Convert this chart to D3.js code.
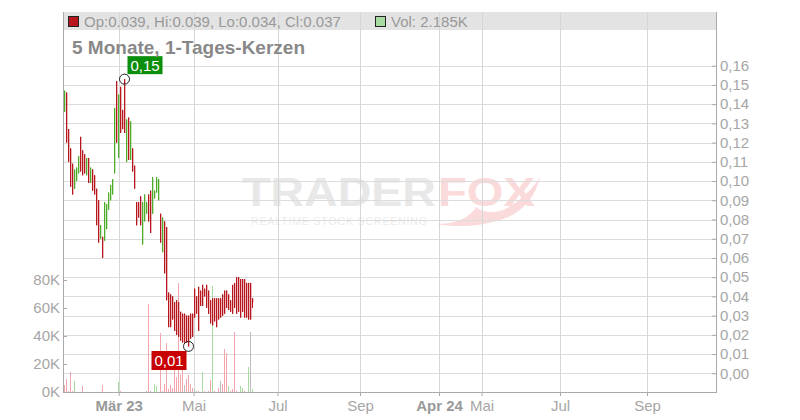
<!DOCTYPE html>
<html><head><meta charset="utf-8">
<script src="https://cdn.jsdelivr.net/npm/d3@7"></script>
<style>body{margin:0;background:#fff}svg{display:block;font-family:"Liberation Sans",Arial,sans-serif}</style>
</head><body><svg id="c" width="800" height="420"></svg>
<script>
// ---- data (one entry per daily candle) ----
const opens  = [.136,.146,.127,.117,.109,.096,.100,.104,.123,.116,.114,.103,.112,.099,.106,.103,.096,.090,.070,.071,
                .069,.075,.085,.090,.093,.104,.152,.112,.149,.137,.153,.110,.133,.111,.117,.108,.089,.089,.092,.067,
                .079,.083,.093,.095,.083,.091,.094,.090,.083,.063,.079,.076,.042,.041,.040,.037,.038,.037,.032,.031,
                .031,.030,.030,.031,.031,.044,.040,.045,.043,.046,.044,.046,.043,.038,.039,.039,.039,.039,.039,.041,
                .043,.043,.041,.038,.046,.047,.050,.050,.049,.049,.049,.047,.047,.047,.039];
const highs  = [.147,.146,.127,.117,.109,.106,.107,.113,.123,.116,.114,.112,.112,.107,.106,.103,.096,.090,.077,.071,
                .089,.088,.094,.098,.101,.138,.152,.145,.149,.137,.153,.132,.133,.131,.117,.108,.089,.089,.092,.089,
                .093,.089,.093,.095,.102,.095,.102,.101,.083,.081,.079,.076,.042,.041,.040,.037,.038,.037,.032,.031,
                .031,.030,.030,.031,.031,.044,.040,.045,.043,.046,.044,.046,.043,.038,.039,.039,.039,.039,.039,.041,
                .043,.043,.041,.038,.046,.047,.050,.050,.049,.049,.049,.047,.047,.047,.039];
const lows   = [.136,.120,.110,.097,.093,.096,.100,.104,.105,.103,.104,.103,.099,.099,.095,.093,.077,.068,.070,.060,
                .069,.075,.085,.090,.093,.104,.120,.112,.125,.127,.125,.110,.111,.111,.105,.096,.077,.081,.077,.067,
                .079,.083,.079,.073,.083,.091,.094,.090,.068,.063,.052,.038,.024,.024,.028,.022,.020,.019,.017,.016,
                .016,.016,.014,.018,.019,.029,.031,.022,.035,.035,.040,.034,.031,.026,.025,.027,.024,.028,.029,.030,
                .031,.034,.033,.032,.031,.034,.031,.032,.029,.032,.029,.029,.028,.028,.034];
const closes = [.147,.120,.110,.097,.093,.106,.107,.113,.105,.103,.104,.112,.099,.107,.095,.093,.077,.068,.077,.060,
                .089,.088,.094,.098,.101,.138,.120,.145,.125,.127,.125,.132,.111,.131,.105,.096,.077,.081,.077,.089,
                .093,.089,.079,.073,.102,.095,.102,.101,.068,.081,.052,.038,.024,.024,.028,.022,.020,.019,.017,.016,
                .016,.016,.014,.018,.019,.029,.031,.022,.035,.035,.040,.034,.031,.026,.025,.027,.024,.028,.029,.030,
                .031,.034,.033,.032,.031,.034,.031,.032,.029,.032,.029,.029,.028,.028,.037];
// volume in thousands
const volumes = [5,9,0.5,14.5,0.5,8,0,0.3,0.3,4, 0,0.3,0,0,0.3,0,0.3,0,0,5, 0.3,0,0,0,0,0.3,0,7,1,0,
                 0,0,0,0,0,0,0,0,0,0, 0,1,63,0.5,0,6,4,0.3,42,0.5, 6,35,2,5,3,25,11,78,12,16,
                 5,9,12,6,3,2,1,0.5,0.3,14.5, 0.5,0.3,0.5,8.5,76,0.5,0.3,3,8,6, 31,27.6,4,0.5,2,43,1,0.3,4,3,
                 0.5,0.3,18,43,2.185];
// volume direction vs previous close: u = up, d = down, n = unchanged
const volumeDir = ("dddddunudd"+"nududdddud"+"uuuuuududd"+"dududddudu"+"undduuuudd"+
                   "dddddddddd"+"nddddnnddu"+"ddddudddnd"+"dduddddduu"+"ddunu").split("");
const priceTicks = [0,0.01,0.02,0.03,0.04,0.05,0.06,0.07,0.08,0.09,0.10,0.11,0.12,0.13,0.14,0.15,0.16];
const volumeTicks = [0,20,40,60,80];
const timeTickLabels = ["Mär 23","Mai","Jul","Sep","Apr 24","Mai","Jul","Sep"];
const timeTickPos    = [27.35,64.8,106.75,148,187.5,208.75,248,291.5];   // in candle-slot units
const timeTickMajor  = [true,false,false,false,true,false,false,false];
const titleText = "5 Monate, 1-Tages-Kerzen";

// ---- layout ----
const svg = d3.select("#c");
const L = 63, R = 716, T = 12, B = 392;
const x  = d3.scaleLinear().domain([-0.5, 326]).range([L, R]);
const y  = d3.scaleLinear().domain([0, 0.16]).range([373.3, 65.7]);
const yv = d3.scaleLinear().domain([0, 80]).range([B, 280]);
const comma = v => d3.format(".2f")(v).replace(".", ",");
const RED = "#b7161d", GREEN = "#4dad2a";
const volColor = {u:"#a8dba2", d:"#f2a5ad", n:"#bdbdbd"};

// header band
svg.append("rect").attr("x", L).attr("y", T).attr("width", R - L).attr("height", 18).attr("fill", "#e3e3e3");

// watermark
const wm = svg.append("g");
wm.append("text").attr("x", 242).attr("y", 206).attr("font-size", 40).attr("font-weight", 900)
  .attr("fill", "#e8e8e8").attr("textLength", 194).attr("lengthAdjust", "spacingAndGlyphs").text("TRADER");
wm.append("text").attr("x", 438).attr("y", 206).attr("font-size", 40).attr("font-weight", 900)
  .attr("fill", "#fbdadc").attr("textLength", 97).attr("lengthAdjust", "spacingAndGlyphs").text("FOX");
wm.append("path").attr("fill", "#fbdadc")
  .attr("d", "M436,224 C455,224 470,218 476,207 C484,214 500,214 512,205 C524,197 534,187 540,177 C536,196 522,214 500,220 C482,226 458,228 436,224 Z");
wm.append("text").attr("x", 251).attr("y", 224.5).attr("font-size", 10.5)
  .attr("fill", "#ebebeb").attr("textLength", 176).attr("lengthAdjust", "spacing").text("REALTIME STOCK SCREENING");

// grid
const gh = svg.append("g").attr("stroke", "#dcdcdc").attr("shape-rendering", "crispEdges");
gh.selectAll("line").data(priceTicks).join("line")
  .attr("x1", L).attr("x2", R).attr("y1", d => Math.round(y(d)) + 0.5).attr("y2", d => Math.round(y(d)) + 0.5);
const gv = svg.append("g").attr("stroke", "#d6d6d6").attr("shape-rendering", "crispEdges");
gv.selectAll("line").data(timeTickPos).join("line")
  .attr("x1", d => Math.round(x(d)) + 0.5).attr("x2", d => Math.round(x(d)) + 0.5).attr("y1", T).attr("y2", B);

// volume bars
svg.append("g").attr("shape-rendering", "crispEdges").selectAll("rect").data(volumes).join("rect")
  .attr("x", (d, i) => Math.round(x(i))).attr("width", 1)
  .attr("y", d => yv(d)).attr("height", d => B - yv(d))
  .attr("fill", (d, i) => volColor[volumeDir[i]] || volColor.n);

// candles
const idx = d3.range(opens.length);
const isUp = i => closes[i] >= opens[i];
const cg = svg.append("g");
cg.selectAll("line").data(idx).join("line")
  .attr("x1", i => Math.round(x(i)) + 0.5).attr("x2", i => Math.round(x(i)) + 0.5)
  .attr("y1", i => y(highs[i])).attr("y2", i => y(lows[i]))
  .attr("stroke", i => isUp(i) ? GREEN : RED).attr("stroke-width", 1);
cg.selectAll("rect").data(idx).join("rect")
  .attr("x", i => Math.round(x(i))).attr("width", 1.3)
  .attr("y", i => y(Math.max(opens[i], closes[i])))
  .attr("height", i => Math.max(1, Math.abs(y(opens[i]) - y(closes[i]))))
  .attr("fill", i => isUp(i) ? GREEN : RED);

// axes
const styleAxis = g => {
  g.attr("font-size", 15).attr("font-family", null);
  g.selectAll("line").attr("stroke", "#aaa");
  g.selectAll("text").attr("fill", "#a6a6a6");
  g.select(".domain").remove();
};
svg.append("g").attr("transform", `translate(${R},0)`)
  .call(d3.axisRight(y).tickValues(priceTicks).tickFormat(comma).tickSizeInner(-4).tickSizeOuter(0).tickPadding(4))
  .call(styleAxis);
svg.append("g").attr("transform", `translate(${L},0)`)
  .call(d3.axisLeft(yv).tickValues(volumeTicks).tickFormat(d => d + "K").tickSizeInner(-4).tickSizeOuter(0).tickPadding(3))
  .call(styleAxis);
const bx = svg.append("g").attr("transform", `translate(0,${B})`)
  .call(d3.axisBottom(x).tickValues(timeTickPos).tickFormat((d, i) => timeTickLabels[i]).tickSizeInner(4).tickSizeOuter(0).tickPadding(4))
  .call(styleAxis);
bx.selectAll("text").attr("fill", (d, i) => timeTickMajor[i] ? "#999" : "#a6a6a6")
  .attr("font-weight", (d, i) => timeTickMajor[i] ? "bold" : "normal");

const frame = svg.append("g").attr("stroke", "#aaa").attr("shape-rendering", "crispEdges");
frame.append("line").attr("x1", L + 0.5).attr("x2", L + 0.5).attr("y1", T).attr("y2", B + 1);
frame.append("line").attr("x1", R + 0.5).attr("x2", R + 0.5).attr("y1", T).attr("y2", B + 1);
frame.append("line").attr("x1", L).attr("x2", R + 1).attr("y1", B + 0.5).attr("y2", B + 0.5);

// high / low markers
const hiI = d3.maxIndex(highs), loI = d3.minIndex(lows);
const hx = x(hiI) + 0.5, hy = y(highs[hiI]);
const lx = x(loI) + 0.5, ly = y(lows[loI]);
const mk = svg.append("g");
mk.append("circle").attr("cx", hx).attr("cy", hy).attr("r", 5).attr("fill", "none").attr("stroke", "#222");
mk.append("rect").attr("x", hx + 3).attr("y", hy - 23).attr("width", 35).attr("height", 18).attr("fill", "#0b8e0b");
mk.append("text").attr("x", hx + 20.5).attr("y", hy - 8.6).attr("text-anchor", "middle").attr("font-size", 15)
  .attr("fill", "#fff").text(comma(highs[hiI]));
mk.append("circle").attr("cx", lx).attr("cy", ly).attr("r", 5).attr("fill", "none").attr("stroke", "#222");
mk.append("rect").attr("x", lx - 37).attr("y", ly + 4.6).attr("width", 35).attr("height", 19).attr("fill", "#c80000");
mk.append("text").attr("x", lx - 19.5).attr("y", ly + 19.6).attr("text-anchor", "middle").attr("font-size", 15)
  .attr("fill", "#fff").text(comma(lows[loI]));

// header texts
const last = opens.length - 1;
const f3 = d3.format(".3f");
const hd = svg.append("g").attr("font-size", 15).attr("fill", "#999");
hd.append("rect").attr("x", 68.5).attr("y", 16.5).attr("width", 10).attr("height", 10)
  .attr("fill", isUp(last) ? GREEN : RED).attr("stroke", "#222");
hd.append("text").attr("x", 84).attr("y", 26.5)
  .text(`Op:${f3(opens[last])}, Hi:${f3(highs[last])}, Lo:${f3(lows[last])}, Cl:${f3(closes[last])}`);
hd.append("rect").attr("x", 375.5).attr("y", 16.5).attr("width", 10).attr("height", 10)
  .attr("fill", volColor[volumeDir[last]]).attr("stroke", "#222");
hd.append("text").attr("x", 391).attr("y", 26.5).text(`Vol: ${f3(volumes[last])}K`);

svg.append("text").attr("x", 72).attr("y", 54).attr("font-size", 19).attr("font-weight", "bold")
  .attr("fill", "#888").text(titleText);
</script></body></html>
